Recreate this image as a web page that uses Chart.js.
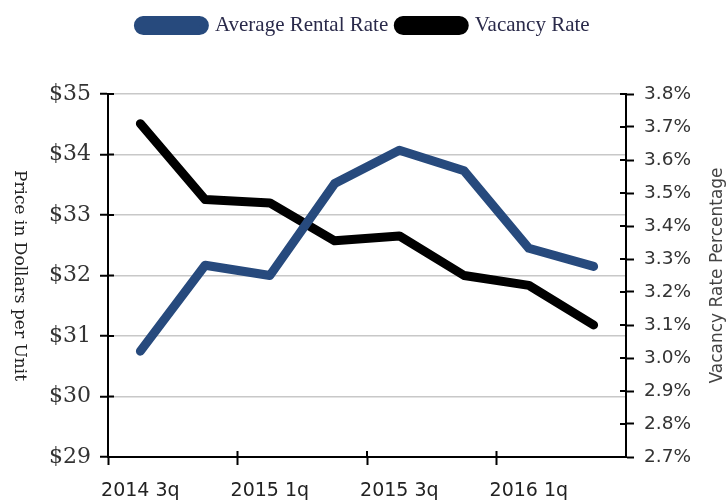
<!DOCTYPE html>
<html>
<head>
<meta charset="utf-8">
<script src="https://cdn.jsdelivr.net/npm/chart.js@4"></script>
<style>
  html, body { margin: 0; padding: 0; background: #fff; }
  #wrap { width: 728px; height: 504px; }
</style>
</head>
<body>
<div id="wrap"><canvas id="rentChart"></canvas></div>
<script>
var quarters = ['2014 3q', '2014 4q', '2015 1q', '2015 2q', '2015 3q', '2015 4q', '2016 1q', '2016 2q'];
var rentalRate = [30.75, 32.17, 32.0, 33.52, 34.07, 33.73, 32.45, 32.15];   // dollars
var vacancyRate = [3.71, 3.48, 3.47, 3.355, 3.37, 3.25, 3.22, 3.10];        // percent

var leftTitle = 'Price in Dollars per Unit';
var rightTitle = 'Vacancy Rate Percentage';

// short tick marks reaching into the plot, plus the two rotated axis titles
var axisExtras = {
    id: 'axisExtras',
    beforeDatasetsDraw: function (chart) {
        var ctx = chart.ctx, area = chart.chartArea;
        var x = chart.scales.x, y = chart.scales.y, y2 = chart.scales.y2;
        ctx.save();
        ctx.strokeStyle = '#000';
        ctx.lineWidth = 2;
        ctx.beginPath();
        y.ticks.forEach(function (t, i) {
            var py = y.getPixelForTick(i);
            ctx.moveTo(area.left, py); ctx.lineTo(area.left + 6, py);
        });
        y2.ticks.forEach(function (t, i) {
            var py = y2.getPixelForTick(i);
            ctx.moveTo(area.right - 6, py); ctx.lineTo(area.right, py);
        });
        var half = (x.getPixelForTick(1) - x.getPixelForTick(0)) / 2;
        for (var i = 0; i <= quarters.length; i += 2) {
            var px = (i < quarters.length ? x.getPixelForTick(i) : x.getPixelForTick(i - 1) + 2 * half) - half;
            ctx.moveTo(px, area.bottom - 6); ctx.lineTo(px, area.bottom);
        }
        ctx.stroke();
        ctx.restore();
    },
    afterDraw: function (chart) {
        var ctx = chart.ctx, area = chart.chartArea;
        var cy = (area.top + area.bottom) / 2;
        ctx.save();
        ctx.textAlign = 'center';
        ctx.textBaseline = 'middle';
        ctx.fillStyle = '#222';
        ctx.font = '17px "DejaVu Serif"';
        ctx.translate(19, cy);
        ctx.rotate(Math.PI / 2);
        ctx.fillText(leftTitle, 0, 0);
        ctx.restore();

        ctx.save();
        ctx.textAlign = 'center';
        ctx.textBaseline = 'middle';
        ctx.fillStyle = '#444';
        ctx.font = '17px "DejaVu Sans"';
        ctx.translate(718, cy);
        ctx.rotate(-Math.PI / 2);
        ctx.fillText(rightTitle, 0, 0);
        ctx.restore();
    }
};

var chart = new Chart(document.getElementById('rentChart'), {
    type: 'line',
    data: {
        labels: quarters,
        datasets: [{
            label: 'Average Rental Rate',
            data: rentalRate,
            yAxisID: 'y',
            borderColor: '#274a7d',
            backgroundColor: '#274a7d',
            borderWidth: 9,
            borderCapStyle: 'round',
            borderJoinStyle: 'round',
            pointRadius: 0,
            tension: 0
        }, {
            label: 'Vacancy Rate',
            data: vacancyRate,
            yAxisID: 'y2',
            borderColor: '#000',
            backgroundColor: '#000',
            borderWidth: 9,
            borderCapStyle: 'round',
            borderJoinStyle: 'round',
            pointRadius: 0,
            tension: 0
        }]
    },
    options: {
        responsive: true,
        maintainAspectRatio: false,
        animation: false,
        events: [],
        layout: { padding: { top: 5, left: 0, right: 0, bottom: 0 } },
        plugins: {
            legend: {
                position: 'top',
                labels: {
                    boxWidth: 66,
                    boxHeight: 10,
                    useBorderRadius: true,
                    borderRadius: 5,
                    padding: 10,
                    color: '#2a2a4a',
                    font: { family: '"Liberation Serif"', size: 21 }
                }
            },
            // empty spacer between legend and plot
            subtitle: {
                display: true,
                text: '',
                weight: 500,
                padding: { top: 47, bottom: 0 },
                font: { size: 1, lineHeight: 1 }
            },
            tooltip: { enabled: false }
        },
        scales: {
            x: {
                offset: true,
                afterFit: function (s) { s.height = 47; },
                grid: {
                    offset: true,
                    drawOnChartArea: false,
                    tickLength: 8,
                    tickWidth: 2,
                    tickColor: function (c) { return c.index % 2 === 0 ? '#000' : 'rgba(0,0,0,0)'; }
                },
                border: { color: '#000', width: 2 },
                ticks: {
                    autoSkip: false,
                    maxRotation: 0,
                    padding: 15,
                    color: '#222',
                    font: { family: '"DejaVu Sans"', size: 19 },
                    callback: function (v, i) { return i % 2 === 0 ? quarters[i] : ''; }
                }
            },
            y: {
                position: 'left',
                min: 29,
                max: 35,
                afterFit: function (s) { s.width = 108; },
                grid: {
                    color: '#c8c8c8',
                    lineWidth: 1.5,
                    tickColor: '#000',
                    tickWidth: 2,
                    tickLength: 8
                },
                border: { color: '#000', width: 2 },
                ticks: {
                    stepSize: 1,
                    padding: 9,
                    color: '#333',
                    font: { family: '"DejaVu Serif"', size: 22 },
                    callback: function (v) { return '$' + v; }
                }
            },
            y2: {
                position: 'right',
                min: 2.7,
                max: 3.8,
                afterFit: function (s) { s.width = 102; },
                grid: {
                    drawOnChartArea: false,
                    tickColor: '#000',
                    tickWidth: 2,
                    tickLength: 8
                },
                border: { color: '#000', width: 2 },
                ticks: {
                    stepSize: 0.1,
                    padding: 10,
                    color: '#333',
                    font: { family: '"DejaVu Sans"', size: 18.5 },
                    callback: function (v) { return v.toFixed(1) + '%'; }
                }
            }
        }
    },
    plugins: [axisExtras]
});
</script>
</body>
</html>
